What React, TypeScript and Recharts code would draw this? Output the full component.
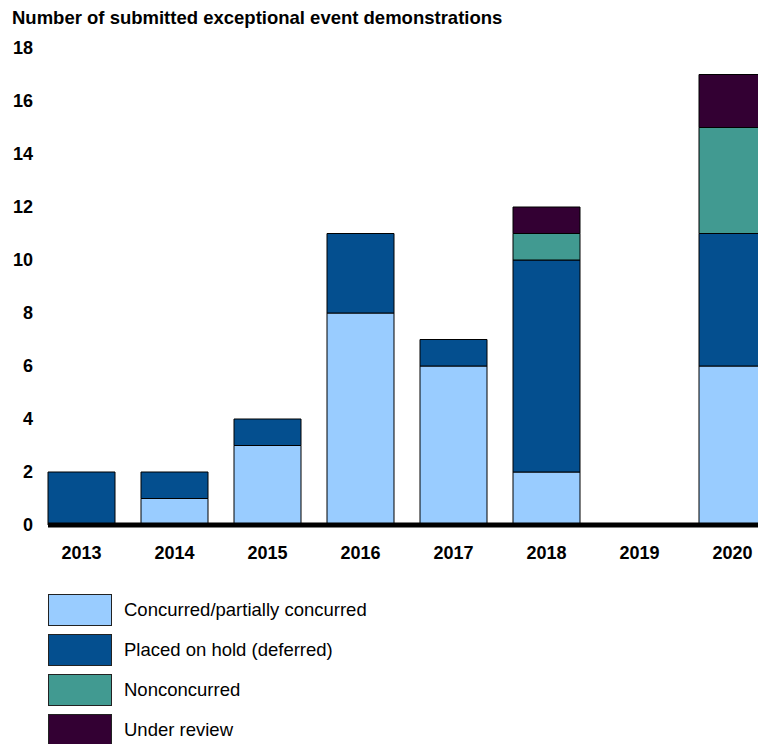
import React from 'react';
import { BarChart, Bar, XAxis, YAxis, ReferenceLine } from 'recharts';

const years = ['2013', '2014', '2015', '2016', '2017', '2018', '2019', '2020'];
const concurred = [0, 1, 3, 8, 6, 2, 0, 6];
const onHold = [2, 1, 1, 3, 1, 8, 0, 5];
const nonconcurred = [0, 0, 0, 0, 0, 1, 0, 4];
const underReview = [0, 0, 0, 0, 0, 1, 0, 2];
const yTicks = [0, 2, 4, 6, 8, 10, 12, 14, 16, 18];

const series = [
  { key: 'concurred', name: 'Concurred/partially concurred', color: '#99CCFF', values: concurred },
  { key: 'onHold', name: 'Placed on hold (deferred)', color: '#044F8F', values: onHold },
  { key: 'nonconcurred', name: 'Nonconcurred', color: '#419A91', values: nonconcurred },
  { key: 'underReview', name: 'Under review', color: '#330033', values: underReview },
];

const data = years.map((year, i) => {
  const row: Record<string, string | number> = { year };
  series.forEach((s) => {
    row[s.key] = s.values[i];
  });
  return row;
});

const font = '"Liberation Sans", Arial, sans-serif';

const App: React.FC = () => {
  return (
    <div style={{ position: 'fixed', left: 0, top: 0, width: 758, height: 744, overflow: 'hidden', fontFamily: font, background: '#fff' }}>
      <div style={{ position: 'absolute', left: 12, top: 8, fontSize: 18.5, fontWeight: 'bold', lineHeight: '20px', whiteSpace: 'nowrap' }}>
        Number of submitted exceptional event demonstrations
      </div>

      <div style={{ position: 'absolute', left: 8, top: 8, width: 750 }}>
        <BarChart width={750} height={560} data={data} margin={{ top: 40, right: 0, bottom: 0, left: 0 }}>
          <XAxis
            dataKey="year"
            interval={0}
            tickLine={false}
            axisLine={false}
            tickSize={0}
            tickMargin={21}
            height={43}
            padding={{ left: -13, right: -21 }}
            tick={{ fontSize: 18, fontWeight: 'bold', fill: '#000', fontFamily: font }}
          />
          <YAxis
            domain={[0, 18]}
            ticks={yTicks}
            width={40}
            tickLine={false}
            axisLine={false}
            tickSize={0}
            tickMargin={15}
            tick={{ fontSize: 18, fontWeight: 'bold', fill: '#000', fontFamily: font }}
          />
          {series.map((s) => (
            <Bar
              key={s.key}
              dataKey={s.key}
              name={s.name}
              stackId="a"
              fill={s.color}
              stroke="#000"
              strokeWidth={1}
              barSize={67}
              isAnimationActive={false}
            />
          ))}
          <ReferenceLine y={0} stroke="#000" strokeWidth={5} />
        </BarChart>
      </div>

      <div style={{ position: 'absolute', left: 48, top: 594 }}>
        {series.map((s) => (
          <div key={s.key} style={{ display: 'flex', alignItems: 'center', height: 32, marginBottom: 8 }}>
            <div
              style={{
                width: 64,
                height: 32,
                boxSizing: 'border-box',
                background: s.color,
                border: '1.5px solid #222',
              }}
            />
            <span style={{ marginLeft: 12, fontSize: 18.5, color: '#000', whiteSpace: 'nowrap' }}>{s.name}</span>
          </div>
        ))}
      </div>
    </div>
  );
};

export default App;
